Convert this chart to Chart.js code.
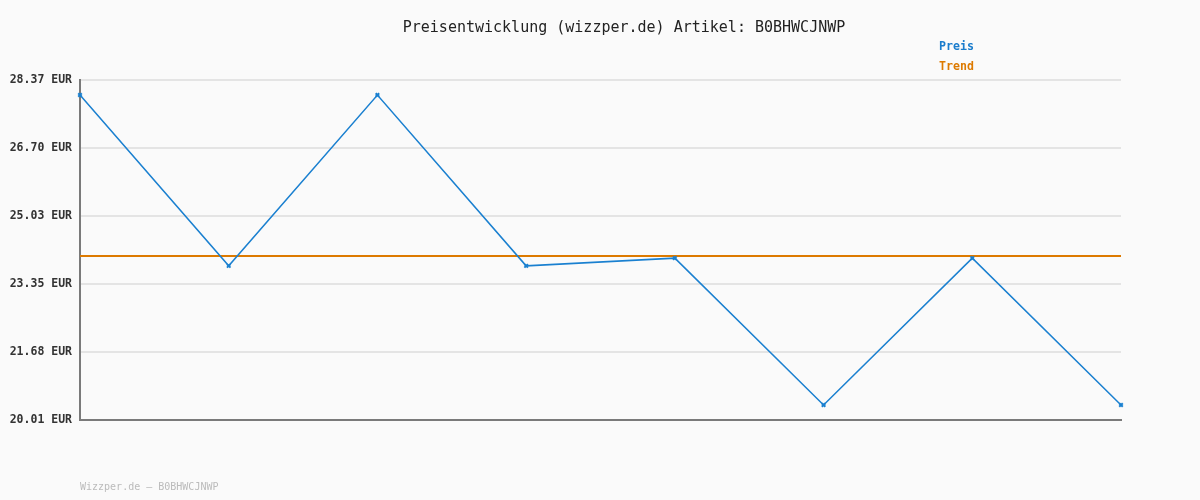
<!DOCTYPE html>
<html>
<head>
<meta charset="utf-8">
<script src="https://cdn.jsdelivr.net/npm/chart.js@4/dist/chart.umd.min.js"></script>
<style>
  body { margin: 0; background: #fafafa; }
  #wrap { width: 1200px; height: 500px; }
</style>
</head>
<body>
<div id="wrap"><canvas id="priceChart" width="1200" height="500"></canvas></div>
<script>
const categories = ["1", "2", "3", "4", "5", "6", "7", "8"];
const preis = [28.00, 23.80, 28.00, 23.80, 23.99, 20.38, 23.99, 20.38];
const trend = [24.04, 24.04, 24.04, 24.04, 24.04, 24.04, 24.04, 24.04];
const yTicks = [20.01, 21.68, 23.35, 25.03, 26.70, 28.37];

const mono = "'DejaVu Sans Mono', 'Liberation Mono', monospace";

// title, legend and footer drawn as text on the canvas
const textPlugin = {
  id: "texts",
  beforeDraw(chart) {
    const c = chart.ctx;
    c.save();
    c.fillStyle = "#fafafa";
    c.fillRect(0, 0, chart.width, chart.height);
    c.restore();
  },
  afterDraw(chart) {
    const c = chart.ctx;
    c.save();
    c.textBaseline = "middle";
    c.font = "15px " + mono;
    c.fillStyle = "#222";
    c.textAlign = "center";
    c.fillText("Preisentwicklung (wizzper.de) Artikel: B0BHWCJNWP", 624, 28);
    c.textAlign = "left";
    c.font = "bold 11.6px " + mono;
    c.fillStyle = "#1a7ccc";
    c.fillText("Preis", 939, 47);
    c.fillStyle = "#dd7a00";
    c.fillText("Trend", 939, 67);
    c.font = "10px " + mono;
    c.fillStyle = "#bbbbbb";
    c.fillText("Wizzper.de \u2013 B0BHWCJNWP", 80, 487);
    c.restore();
  }
};

new Chart(document.getElementById("priceChart"), {
  type: "line",
  data: {
    labels: categories,
    datasets: [
      {
        label: "Preis",
        data: preis,
        borderColor: "#1a80d0",
        backgroundColor: "#1a80d0",
        borderWidth: 1.5,
        pointStyle: "crossRot",
        pointRadius: 2.5,
        pointBorderWidth: 2,
        tension: 0
      },
      {
        label: "Trend",
        data: trend,
        borderColor: "#dd7a00",
        borderWidth: 2,
        pointRadius: 0,
        tension: 0
      }
    ]
  },
  options: {
    responsive: false,
    animation: false,
    layout: { padding: { left: 0, right: 79, top: 80, bottom: 80 } },
    plugins: {
      legend: { display: false },
      title: { display: false },
      tooltip: { enabled: false }
    },
    scales: {
      x: {
        offset: false,
        ticks: { display: false },
        grid: { display: false, drawTicks: false },
        border: { display: true, color: "#7a7a7a", width: 2 },
        afterFit(scale) { scale.height = 0; }
      },
      y: {
        min: 20.01,
        max: 28.37,
        afterBuildTicks(scale) {
          scale.ticks = yTicks.map(v => ({ value: v }));
        },
        afterFit(scale) { scale.width = 80; },
        ticks: {
          padding: 8,
          color: "#333",
          font: { family: mono, size: 11.5, weight: "bold" },
          callback: v => v.toFixed(2) + " EUR"
        },
        grid: { color: "#e4e4e4", lineWidth: 2, drawTicks: false },
        border: { display: true, color: "#7a7a7a", width: 2 }
      }
    }
  },
  plugins: [textPlugin]
});
</script>
</body>
</html>
